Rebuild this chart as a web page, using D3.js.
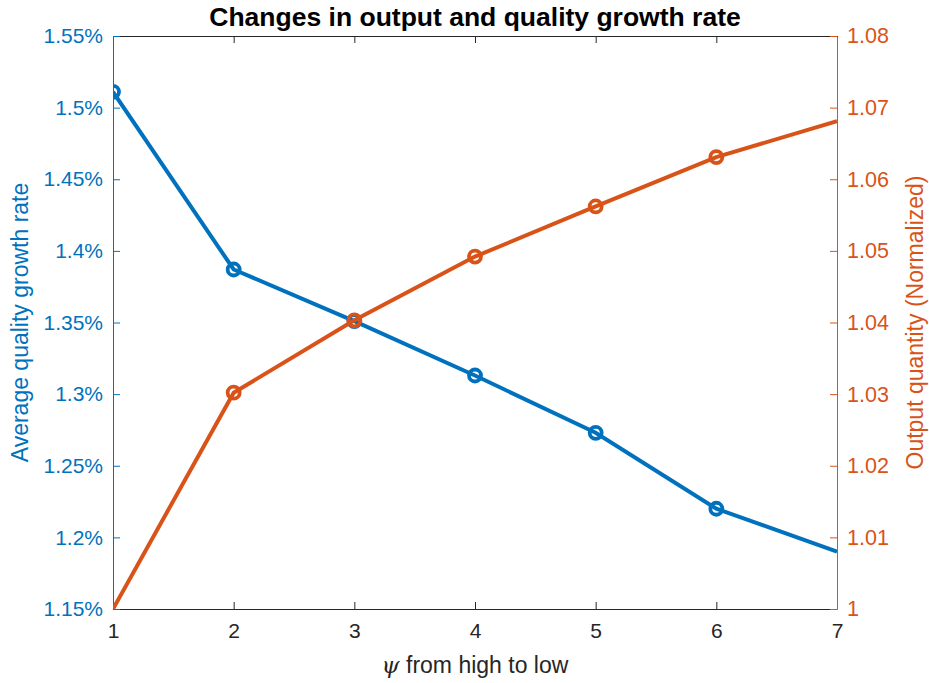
<!DOCTYPE html>
<html>
<head>
<meta charset="utf-8">
<script src="https://cdn.jsdelivr.net/npm/d3@7"></script>
<style>
  body { margin: 0; background: #fff; }
  svg text { font-family: "Liberation Sans", Arial, sans-serif; }
</style>
</head>
<body>
<svg id="chart" width="929" height="683"></svg>
<script>
// data
var psi = [1, 2, 3, 4, 5, 6, 7];
var qualityGrowth = [1.511, 1.387, 1.351, 1.313, 1.273, 1.220, 1.190];   // %
var outputQty = [1.000, 1.0302, 1.0403, 1.0492, 1.0562, 1.0631, 1.0681];
var qualityMarks = [true, true, true, true, true, true, false];
var outputMarks = [false, true, true, true, true, true, false];
var leftTicks = [1.15, 1.2, 1.25, 1.3, 1.35, 1.4, 1.45, 1.5, 1.55];
var rightTicks = [1, 1.01, 1.02, 1.03, 1.04, 1.05, 1.06, 1.07, 1.08];

var blue = "#0072BD", orange = "#D95319", gray = "#262626";
var margin = {top: 36, right: 92, bottom: 74, left: 113},
    width = 929 - margin.left - margin.right,
    height = 683 - margin.top - margin.bottom;

var svg = d3.select("#chart"),
    g = svg.append("g").attr("transform", "translate(" + margin.left + "," + margin.top + ")");

var x = d3.scaleLinear().domain([1, 7]).range([0, width]);
var yL = d3.scaleLinear().domain([1.15, 1.55]).range([height, 0]);
var yR = d3.scaleLinear().domain([1, 1.08]).range([height, 0]);

svg.append("defs").append("clipPath").attr("id", "clip")
  .append("rect").attr("width", width).attr("height", height);

function styleAxis(sel, color, size) {
  sel.select(".domain").attr("stroke", color).attr("stroke-width", 1);
  sel.selectAll(".tick line").attr("stroke", color);
  sel.selectAll(".tick text").attr("fill", color).style("font-size", size + "px");
}

// bottom + top
var xb = g.append("g").attr("transform", "translate(0," + height + ")")
  .call(d3.axisBottom(x).tickValues(psi).tickSizeInner(-7).tickSizeOuter(0).tickPadding(14).tickFormat(d3.format("d")));
styleAxis(xb, gray, 21);
var xt = g.append("g")
  .call(d3.axisTop(x).tickValues(psi).tickSizeInner(-7).tickSizeOuter(0).tickFormat(""));
styleAxis(xt, gray, 21);

// left + right
var yl = g.append("g")
  .call(d3.axisLeft(yL).tickValues(leftTicks).tickSizeInner(-7).tickSizeOuter(0).tickPadding(10)
    .tickFormat(function(d) { return d3.format("~g")(d) + "%"; }));
styleAxis(yl, blue, 21);
var yr = g.append("g").attr("transform", "translate(" + width + ",0)")
  .call(d3.axisRight(yR).tickValues(rightTicks).tickSizeInner(-7).tickSizeOuter(0).tickPadding(10)
    .tickFormat(d3.format("~g")));
styleAxis(yr, orange, 21.5);

// lines
var plot = g.append("g").attr("clip-path", "url(#clip)");
var series = [
  {vals: qualityGrowth, y: yL, color: blue, marks: qualityMarks},
  {vals: outputQty, y: yR, color: orange, marks: outputMarks}
];
series.forEach(function(s) {
  var line = d3.line()
    .x(function(d, i) { return x(psi[i]); })
    .y(function(d) { return s.y(d); });
  plot.append("path")
    .attr("d", line(s.vals))
    .attr("fill", "none")
    .attr("stroke", s.color)
    .attr("stroke-width", 4);
  plot.selectAll(null)
    .data(s.vals.map(function(v, i) { return {x: psi[i], v: v, m: s.marks[i]}; }).filter(function(d) { return d.m; }))
    .enter().append("circle")
    .attr("cx", function(d) { return x(d.x); })
    .attr("cy", function(d) { return s.y(d.v); })
    .attr("r", 6)
    .attr("fill", "none")
    .attr("stroke", s.color)
    .attr("stroke-width", 3.8);
});

// titles
svg.append("text")
  .attr("x", margin.left + width / 2).attr("y", 26)
  .attr("text-anchor", "middle")
  .style("font-size", "26.5px").style("font-weight", "bold")
  .attr("fill", "#000")
  .text("Changes in output and quality growth rate");

var xl = svg.append("text")
  .attr("x", margin.left + width / 2).attr("y", 673)
  .attr("text-anchor", "middle")
  .style("font-size", "23px")
  .attr("fill", gray);
xl.append("tspan").style("font-family", "'DejaVu Serif', serif").style("font-style", "italic").text("ψ");
xl.append("tspan").text(" from high to low");

svg.append("text")
  .attr("transform", "translate(28," + (margin.top + height / 2) + ") rotate(-90)")
  .attr("text-anchor", "middle")
  .style("font-size", "23px")
  .attr("fill", blue)
  .text("Average quality growth rate");

svg.append("text")
  .attr("transform", "translate(923," + (margin.top + height / 2) + ") rotate(-90)")
  .attr("text-anchor", "middle")
  .style("font-size", "23px")
  .attr("fill", orange)
  .text("Output quantity (Normalized)");
</script>
</body>
</html>
